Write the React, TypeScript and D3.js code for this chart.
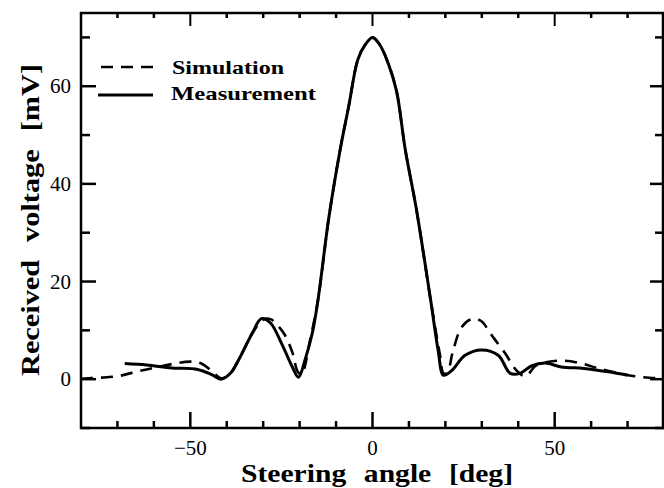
import React from "react";
import * as d3 from "d3";

// simulated pattern [deg, mV]
const simAngles = [-80, -75, -70, -65, -60, -55, -50, -47, -44, -41.5, -39, -36.5, -33, -30, -28, -26, -24, -22, -20.5, -19.5, -17, -15, -12, -9, -6.5, -4, -2, 0, 2, 4.4, 6.6, 9, 12, 16, 18.5, 19.5, 20.5, 22, 24.5, 27.5, 30, 32.3, 36.4, 39.5, 42, 44.7, 48, 52, 57, 62, 67, 72, 76, 80];
const simValues = [0.1, 0.3, 0.6, 1.5, 2.3, 3.1, 3.6, 3.2, 1.6, 0.2, 1.2, 4.3, 9.4, 12.2, 12.3, 11, 9, 5.5, 1.5, 1, 8.5, 16, 33, 46.5, 56, 65.5, 68.5, 70, 68.5, 64.5, 59, 47, 35, 16, 5, 1.2, 1.2, 5.5, 10.7, 12.4, 11.8, 9.4, 5.3, 1.8, 0.6, 2.7, 3.5, 3.8, 3.3, 2.2, 1.3, 0.6, 0.3, 0.2];

// measured pattern
const measAngles = [-68, -62, -55, -48, -44, -41.5, -39, -36.5, -33, -30.5, -28, -25, -22, -20.3, -18.5, -16.5, -15, -12, -9, -6.5, -4, -2, 0, 2, 4.4, 6.6, 9, 12, 16, 18, 19.5, 21.8, 25.4, 30, 34.5, 37.8, 40.5, 43.6, 47.4, 51.8, 58, 64.7, 70];
const measValues = [3.2, 2.9, 2.3, 2.0, 0.9, 0, 1.2, 4.3, 9.4, 12.4, 11.5, 7.4, 2.5, 0.4, 4, 9.5, 16, 33, 46.5, 56, 65.5, 68.5, 70, 68.5, 64.5, 59, 47, 35, 16, 6, 0.8, 1.8, 4.9, 6, 4.9, 1.2, 1.2, 2.7, 3.3, 2.5, 2.2, 1.5, 0.8];

const xMajor = [-50, 0, 50];
const xMinor = [-70, -60, -40, -30, -20, -10, 10, 20, 30, 40, 60, 70];
const yMajor = [0, 20, 40, 60];
const yMinor = [-10, 10, 30, 50, 70];

const W = 664;
const H = 488;
const left = 81;
const right = 664;
const top = 13;
const bottom = 428;

const font = "'Liberation Serif', 'Times New Roman', serif";

export default function App() {
  const x = d3.scaleLinear().domain([-80, 80]).range([left, right]);
  const y = d3.scaleLinear().domain([-10, 75]).range([bottom, top]);

  const line = d3
    .line<[number, number]>()
    .x((d) => x(d[0]))
    .y((d) => y(d[1]))
    .curve(d3.curveCatmullRom.alpha(0.5));

  const sim = simAngles.map((a, i) => [a, simValues[i]] as [number, number]);
  const meas = measAngles.map((a, i) => [a, measValues[i]] as [number, number]);

  return (
    <svg
      width={W}
      height={H}
      style={{ position: "absolute", left: 0, top: 0, background: "#fff" }}
      fontFamily={font}
    >
      <defs>
        <clipPath id="plot">
          <rect x={left} y={top} width={right - left} height={bottom - top} />
        </clipPath>
      </defs>

      {/* curves */}
      <g clipPath="url(#plot)" fill="none" stroke="#000">
        <path d={line(sim) || ""} strokeWidth={2.6} strokeDasharray="12 8" />
        <path d={line(meas) || ""} strokeWidth={3} />
      </g>

      {/* frame */}
      <rect x={left} y={top} width={right - left - 1} height={bottom - top} fill="none" stroke="#000" strokeWidth={2.5} />

      {/* x ticks */}
      {xMajor.map((t) => (
        <g key={"xM" + t}>
          <line x1={x(t)} x2={x(t)} y1={bottom} y2={bottom - 16} stroke="#000" strokeWidth={2.5} />
          <line x1={x(t)} x2={x(t)} y1={top} y2={top + 13} stroke="#000" strokeWidth={2} />
          <text x={x(t)} y={455} fontSize={21} textAnchor="middle">
            {t < 0 ? "\u2212" + Math.abs(t) : t}
          </text>
        </g>
      ))}
      {xMinor.map((t) => (
        <g key={"xm" + t}>
          <line x1={x(t)} x2={x(t)} y1={bottom} y2={bottom - 7} stroke="#000" strokeWidth={2.5} />
          <line x1={x(t)} x2={x(t)} y1={top} y2={top + 5} stroke="#000" strokeWidth={2.5} />
        </g>
      ))}

      {/* y ticks */}
      {yMajor.map((t) => (
        <g key={"yM" + t}>
          <line x1={left} x2={left + 15} y1={y(t)} y2={y(t)} stroke="#000" strokeWidth={2.5} />
          <line x1={right - 14} x2={right} y1={y(t)} y2={y(t)} stroke="#000" strokeWidth={2.5} />
          <text x={71} y={y(t) + 7} fontSize={21} textAnchor="end">
            {t}
          </text>
        </g>
      ))}
      {yMinor.map((t) => (
        <g key={"ym" + t}>
          <line x1={left} x2={left + 9} y1={y(t)} y2={y(t)} stroke="#000" strokeWidth={2.5} />
          <line x1={right - 9} x2={right} y1={y(t)} y2={y(t)} stroke="#000" strokeWidth={2.5} />
        </g>
      ))}

      {/* axis titles */}
      <text
        x={241}
        y={482}
        fontSize={26}
        fontWeight="bold"
        wordSpacing={9}
        textLength={272}
        lengthAdjust="spacingAndGlyphs"
      >
        Steering angle [deg]
      </text>
      <text
        transform="translate(39, 376) rotate(-90)"
        fontSize={26}
        fontWeight="bold"
        wordSpacing={9}
        textLength={312}
        lengthAdjust="spacingAndGlyphs"
      >
        Received voltage [mV]
      </text>

      {/* legend */}
      <line x1={101} x2={156} y1={67} y2={67} stroke="#000" strokeWidth={2.6} strokeDasharray="12 8" />
      <text x={172} y={74} fontSize={19} fontWeight="bold" textLength={112} lengthAdjust="spacingAndGlyphs">
        Simulation
      </text>
      <line x1={98} x2={153} y1={95} y2={95} stroke="#000" strokeWidth={3} />
      <text x={171} y={100} fontSize={19} fontWeight="bold" textLength={145} lengthAdjust="spacingAndGlyphs">
        Measurement
      </text>
    </svg>
  );
}
